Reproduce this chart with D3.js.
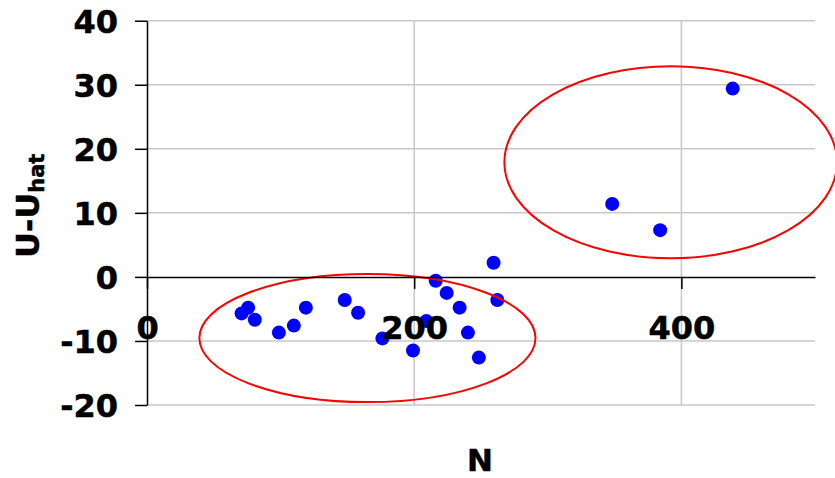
<!DOCTYPE html>
<html>
<head>
<meta charset="utf-8">
<script src="https://cdn.jsdelivr.net/npm/d3@7"></script>
<style>
  html, body { margin: 0; padding: 0; background: #fff; }
  svg { display: block; font-family: "DejaVu Sans", Verdana, sans-serif; font-weight: bold; }
</style>
</head>
<body>
<svg id="chart" width="835" height="478"></svg>
<script>
// Residuals U - U_hat against sample size N
const nValues = [70.8, 75.7, 80.7, 98.7, 109.9, 118.9, 148.0, 158.0, 176.2, 199.1, 209.1,
                 216.1, 224.3, 234.0, 240.2, 248.4, 259.4, 262.2, 348.2, 384.1, 438.4];
const residuals = [-5.7, -4.8, -6.7, -8.7, -7.6, -4.8, -3.6, -5.6, -9.6, -11.5, -6.9,
                   -0.6, -2.5, -4.8, -8.7, -12.6, 2.2, -3.6, 11.4, 7.3, 29.4];

const xTicks = [0, 200, 400];
const yTicks = [-20, -10, 0, 10, 20, 30, 40];
const xGrid = [200, 400];

// Highlight ellipses in data units: centre (cx, cy) and radii (rx, ry)
const groupCx = [165.0, 392.0];
const groupCy = [-9.55, 17.9];
const groupRx = [125.8, 124.5];
const groupRy = [10.0, 15.0];

const svg = d3.select("#chart");
const x = d3.scaleLinear().domain([0, 500]).range([147, 815]);
const y = d3.scaleLinear().domain([-20, 40]).range([405, 20.7]);
const plain = d => String(d);   // keeps an ASCII hyphen for negatives

// Gridlines
svg.append("g").selectAll("line.h").data(yTicks.filter(d => d !== 0)).join("line")
  .attr("x1", x(0)).attr("x2", x(500))
  .attr("y1", d => y(d)).attr("y2", d => y(d))
  .attr("stroke", "#c8c8c8").attr("stroke-width", 1.5);
svg.append("g").selectAll("line.v").data(xGrid).join("line")
  .attr("x1", d => x(d)).attr("x2", d => x(d))
  .attr("y1", y(40)).attr("y2", y(-20))
  .attr("stroke", "#c8c8c8").attr("stroke-width", 1.5);

function styleLabels(sel) {
  sel.style("font-size", "32px").style("font-family", "'DejaVu Sans', sans-serif")
    .style("font-weight", "bold").attr("fill", "#000")
    .attr("stroke", "#000").attr("stroke-width", 0.5);
}

// Points
svg.append("g").selectAll("circle").data(d3.range(nValues.length)).join("circle")
  .attr("cx", i => x(nValues[i])).attr("cy", i => y(residuals[i]))
  .attr("r", 7).attr("fill", "#0000ff");

// Ellipses
svg.append("g").selectAll("ellipse").data(d3.range(groupCx.length)).join("ellipse")
  .attr("cx", i => x(groupCx[i])).attr("cy", i => y(groupCy[i]))
  .attr("rx", i => x(groupRx[i]) - x(0)).attr("ry", i => y(0) - y(groupRy[i]))
  .attr("fill", "none").attr("stroke", "#ff0000").attr("stroke-width", 2);

// Y axis with outward ticks
const yAxis = svg.append("g").attr("transform", `translate(${x(0)},0)`)
  .call(d3.axisLeft(y).tickValues(yTicks).tickSize(12).tickSizeOuter(0).tickFormat(plain));
yAxis.select(".domain").attr("stroke", "#000").attr("stroke-width", 1.5);
yAxis.selectAll(".tick line").attr("stroke", "#000").attr("stroke-width", 1.5);
yAxis.selectAll(".tick text").attr("x", -29).attr("dy", "0.36em").call(styleLabels);

// X axis along the zero line; its labels sit lower and over the markers
const xAxis = svg.append("g").attr("transform", `translate(0,${y(0)})`)
  .call(d3.axisBottom(x).tickValues(xTicks).tickSize(12).tickSizeOuter(0).tickFormat(plain));
xAxis.select(".domain").attr("stroke", "#000").attr("stroke-width", 1.5);
xAxis.selectAll(".tick line").attr("stroke", "#000").attr("stroke-width", 1.5);
xAxis.selectAll(".tick text").attr("y", 62).attr("dy", 0).call(styleLabels);

// Axis titles
svg.append("text").attr("x", 480).attr("y", 470.5).attr("text-anchor", "middle")
  .attr("stroke", "#000").attr("stroke-width", 0.5)
  .style("font-size", "31px").text("N");

const yt = svg.append("text").attr("transform", "translate(39,258) rotate(-90)")
  .attr("stroke", "#000").attr("stroke-width", 0.5)
  .style("font-size", "32px");
yt.append("tspan").text("U-U");
yt.append("tspan").attr("dy", 5).style("font-size", "21px").text("hat");
</script>
</body>
</html>
